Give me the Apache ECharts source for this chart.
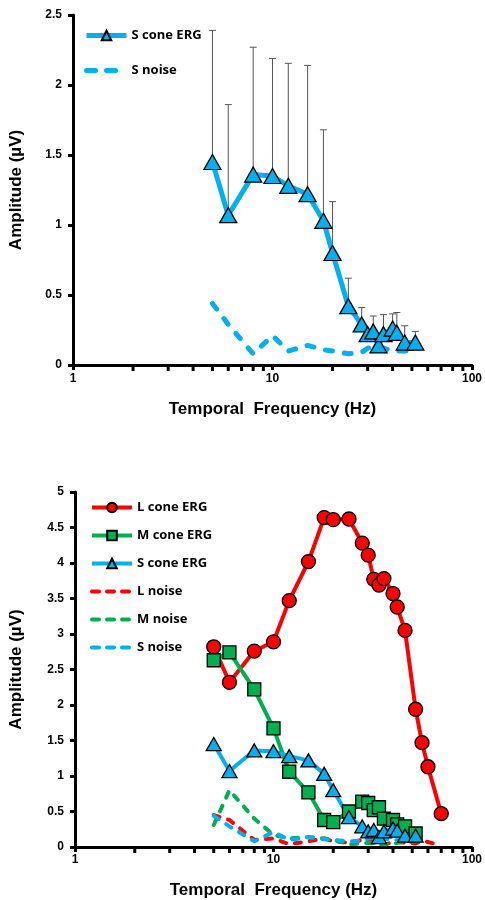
<!DOCTYPE html>
<html><head><meta charset="utf-8">
<script src="https://cdn.jsdelivr.net/npm/echarts@6/dist/echarts.min.js"></script>
<style>html,body{margin:0;padding:0;background:#fff}#c{width:485px;height:900px}</style>
</head><body><div id="c"></div>
<script>
// ---- data ----
const freqS = [5, 6, 8, 10, 12, 15, 18, 20, 24, 28, 30, 32, 34, 36, 40, 42, 46, 52];
const freqL = [5, 6, 8, 10, 12, 15, 18, 20, 24, 28, 30, 32, 34, 36, 40, 42, 46, 52, 56, 60, 70];
const lCone = [2.82, 2.32, 2.76, 2.89, 3.47, 4.02, 4.64, 4.61, 4.62, 4.28, 4.11, 3.77, 3.69, 3.78, 3.57, 3.38, 3.05, 1.94, 1.47, 1.13, 0.47];
const mCone = [2.63, 2.74, 2.22, 1.67, 1.06, 0.77, 0.38, 0.35, 0.50, 0.64, 0.62, 0.52, 0.56, 0.40, 0.38, 0.32, 0.29, 0.19];
const sCone = [1.45, 1.07, 1.36, 1.35, 1.28, 1.22, 1.03, 0.80, 0.42, 0.29, 0.22, 0.24, 0.14, 0.22, 0.26, 0.23, 0.16, 0.16];
const sErr  = [0.94, 0.79, 0.91, 0.84, 0.875, 0.92, 0.65, 0.367, 0.20, 0.12, 0, 0.11, 0, 0.14, 0.105, 0.145, 0.12, 0.08];
const lNoise = [0.45, 0.38, 0.10, 0.12, 0.04, 0.08, 0.12, 0.08, 0.06, 0.10, 0.10, 0.06, 0.05, 0.04, 0.06, 0.07, 0.06, 0.05, 0.09, 0.07, 0.02];
const mNoise = [0.31, 0.80, 0.40, 0.17, 0.12, 0.14, 0.12, 0.10, 0.04, 0.05, 0.06, 0.05, 0.04, 0.04, 0.04, 0.06, 0.07, 0.08];
const sNoise = [0.44, 0.29, 0.08, 0.21, 0.10, 0.14, 0.11, 0.10, 0.08, 0.09, 0.12, 0.13, 0.12, 0.12, 0.10, 0.10, 0.10, 0.11];
const minorTicks = [2, 3, 4, 5, 6, 7, 8, 9, 20, 30, 40, 50, 60, 70, 80, 90];
const xTitle = 'Temporal  Frequency (Hz)';
const yTitle = 'Amplitude (µV)';

const BLUE = '#00B0F0', RED = '#FF0000', GREEN = '#00B050';
const pairs = (f, v) => f.map((x, i) => [x, v[i]]);
const lblFont = {fontFamily: 'Liberation Sans', fontWeight: 'bold', fontSize: 12, color: '#000'};
const titleFont = {fontFamily: 'Liberation Sans', fontWeight: 'bold', fontSize: 17, color: '#000'};
const legFont = {fontFamily: 'Open Sans', fontWeight: 'bold', fontSize: 13, color: '#000'};

function xAx(gi, gap, margin) {
  return {
    type: 'log', logBase: 10, min: 1, max: 100, gridIndex: gi,
    name: xTitle, nameLocation: 'middle', nameGap: gap, nameTextStyle: titleFont,
    axisLine: {show: true, onZero: false, lineStyle: {color: '#000', width: 3}},
    axisTick: {show: true, length: 5, lineStyle: {color: '#000', width: 3}},
    axisLabel: Object.assign({margin: margin}, lblFont),
    splitLine: {show: false}, minorSplitLine: {show: false}
  };
}
function yAx(gi, max, gap) {
  return {
    type: 'value', min: 0, max: max, interval: 0.5, gridIndex: gi,
    name: yTitle, nameLocation: 'middle', nameGap: gap, nameTextStyle: titleFont,
    axisLine: {show: true, lineStyle: {color: '#000', width: 3}},
    axisTick: {show: true, length: 5, lineStyle: {color: '#000', width: 3}},
    axisLabel: Object.assign({margin: 11}, lblFont),
    splitLine: {show: false}
  };
}
function ergLine(name, gi, f, v, color, symbol, size, width) {
  return {
    name: name, type: 'line', xAxisIndex: gi, yAxisIndex: gi, data: pairs(f, v),
    symbol: symbol, symbolSize: size, showAllSymbol: true,
    lineStyle: {color: color, width: width},
    itemStyle: {color: color, borderColor: '#000', borderWidth: 1.3},
    z: 3
  };
}
function noiseLine(name, gi, f, v, color, width, dash) {
  return {
    name: name, type: 'line', xAxisIndex: gi, yAxisIndex: gi, data: pairs(f, v),
    symbol: 'none',
    lineStyle: {color: color, width: width, type: dash, cap: 'round', join: 'round'},
    itemStyle: {color: color},
    z: 3
  };
}
function minorTickSeries(gi) {
  return {
    name: 'minor' + gi, type: 'scatter', xAxisIndex: gi, yAxisIndex: gi, z: 10, silent: true, clip: false,
    data: minorTicks.map(v => [v, 0]),
    symbol: 'rect', symbolSize: [3, 6], symbolOffset: [0, 3],
    itemStyle: {color: '#000', opacity: 1}
  };
}
function ergLeg(name, w) {
  return {name: name, lineStyle: {width: w}};
}
function noiseLeg(name, w, dash) {
  return {name: name, lineStyle: {width: w, type: dash, cap: 'round'},
    itemStyle: {color: 'rgba(0,0,0,0)', borderWidth: 0, opacity: 0}};
}

const chart = echarts.init(document.getElementById('c'));
chart.setOption({
  animation: false,
  backgroundColor: '#fff',
  grid: [
    {left: 71, top: 15, width: 401, height: 350},
    {left: 73, top: 492, width: 399, height: 355}
  ],
  xAxis: [xAx(0, 36, 8), xAx(1, 35, 7)],
  yAxis: [yAx(0, 2.5, 48), yAx(1, 5, 50)],
  legend: [
    {
      orient: 'vertical', left: 84, top: 29, padding: 0, itemWidth: 40, itemHeight: 12, itemGap: 22,
      selectedMode: false,
      data: [ergLeg('S cone ERG', 5), noiseLeg('S noise', 5, [9, 11])],
      textStyle: legFont
    },
    {
      orient: 'vertical', left: 90, top: 501, padding: 0, itemWidth: 40, itemHeight: 12, itemGap: 15,
      selectedMode: false,
      data: [ergLeg('L cone ERG', 4), ergLeg('M cone ERG', 4), ergLeg('S cone ERG ', 4),
             noiseLeg('L noise', 4, [7, 8]), noiseLeg('M noise', 4, [7, 8]), noiseLeg('S noise ', 4, [7, 8])],
      textStyle: legFont
    }
  ],
  series: [
    {
      name: 'S error', type: 'custom', xAxisIndex: 0, yAxisIndex: 0, z: 2,
      data: freqS.map((f, i) => [f, sCone[i], sErr[i]]),
      encode: {x: 0, y: 1},
      renderItem: function (params, api) {
        const x = api.value(0), y = api.value(1), e = api.value(2);
        if (!e) return null;
        const p0 = api.coord([x, y]), p1 = api.coord([x, y + e]);
        return {type: 'group', children: [
          {type: 'line', shape: {x1: p0[0], y1: p0[1], x2: p1[0], y2: p1[1]}, style: {stroke: '#555', lineWidth: 1}},
          {type: 'line', shape: {x1: p1[0] - 3.5, y1: p1[1], x2: p1[0] + 3.5, y2: p1[1]}, style: {stroke: '#555', lineWidth: 1}}
        ]};
      }
    },
    ergLine('S cone ERG', 0, freqS, sCone, BLUE, 'triangle', [17, 15], 5),
    noiseLine('S noise', 0, freqS, sNoise, BLUE, 5, [7, 12]),
    minorTickSeries(0),

    ergLine('L cone ERG', 1, freqL, lCone, RED, 'circle', 14, 4),
    ergLine('M cone ERG', 1, freqS, mCone, GREEN, 'rect', 13, 4),
    ergLine('S cone ERG ', 1, freqS, sCone, BLUE, 'triangle', [15, 13], 4),
    noiseLine('L noise', 1, freqL, lNoise, RED, 4, [6, 9]),
    noiseLine('M noise', 1, freqS, mNoise, GREEN, 4, [6, 9]),
    noiseLine('S noise ', 1, freqS, sNoise, BLUE, 4, [6, 9]),
    minorTickSeries(1)
  ]
});
</script>
</body></html>
